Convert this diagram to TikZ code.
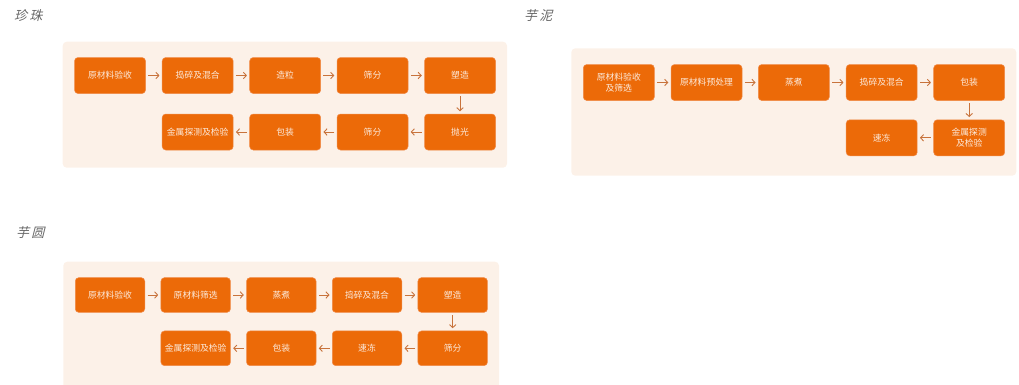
\documentclass[tikz,border=0pt]{standalone}
\usepackage{fontspec}
\newfontfamily\cjk{Noto Sans CJK SC}
\newfontfamily\cjktitle[FakeSlant=0.25]{Noto Sans CJK SC}
\usetikzlibrary{arrows.meta}
\definecolor{panelbg}{HTML}{FCF1E8}
\definecolor{boxfill}{HTML}{EC6A08}
\definecolor{boxline}{HTML}{F08A48}
\definecolor{arrowc}{HTML}{C8733C}
\definecolor{boxtext}{HTML}{FCEBDD}
\definecolor{titlec}{HTML}{666666}
\tikzset{
  panel/.style={fill=panelbg, draw=none, rounded corners=4pt},
  stepbox/.style={fill=boxfill, draw=boxline, line width=0.5pt, rounded corners=3.5pt,
    minimum width=71pt, minimum height=36pt, inner sep=1pt, align=center,
    text=boxtext, font=\cjk\fontsize{8.8}{11}\selectfont},
  smallbox/.style={stepbox, minimum width=69.5pt, minimum height=34.7pt},
  flow/.style={draw=arrowc, line width=0.9pt, -{Straight Barb[length=3pt,width=6.5pt]}, shorten <=2.5pt, shorten >=2.5pt},
  ttl/.style={text=titlec, font=\cjktitle\fontsize{13}{15}\selectfont, anchor=west, inner sep=0pt}
}
\begin{document}
\begin{tikzpicture}[x=1pt,y=-1pt]
\useasboundingbox (0,0) rectangle (1019,384);
% titles
\node[ttl] (t1) at (14,16) {珍\,珠};
\node[ttl] (t2) at (524,16) {芋\,泥};
\node[ttl] (t3) at (16,233) {芋\,圆};
% panels
\fill[panel] (62.7,41.7) rectangle (507,167.7);
\fill[panel] (571.3,48.3) rectangle (1016.3,175.7);
\fill[panel] (63.3,261.7) rectangle (499,390);
% panel 1
\node[stepbox] (a1) at (110,75.5) {原材料验收};
\node[stepbox] (a2) at (197.7,75.5) {捣碎及混合};
\node[stepbox] (a3) at (285.2,75.5) {造粒};
\node[stepbox] (a4) at (372.5,75.5) {筛分};
\node[stepbox] (a5) at (460,75.5) {塑造};
\node[stepbox] (a6) at (460,132) {抛光};
\node[stepbox] (a7) at (372.5,132) {筛分};
\node[stepbox] (a8) at (285.2,132) {包装};
\node[stepbox] (a9) at (197.7,132) {金属探测及检验};
\foreach \u/\v in {a1/a2,a2/a3,a3/a4,a4/a5,a5/a6,a6/a7,a7/a8,a8/a9}
  \draw[flow] (\u) -- (\v);
% panel 2
\node[stepbox] (b1) at (618.8,82.5) {原材料验收\\及筛选};
\node[stepbox] (b2) at (706.5,82.5) {原材料预处理};
\node[stepbox] (b3) at (793.8,82.5) {蒸煮};
\node[stepbox] (b4) at (881.7,82.5) {捣碎及混合};
\node[stepbox] (b5) at (969.2,82.5) {包装};
\node[stepbox] (b6) at (969.2,137.8) {金属探测\\及检验};
\node[stepbox] (b7) at (881.7,137.8) {速冻};
\foreach \u/\v in {b1/b2,b2/b3,b3/b4,b4/b5,b5/b6,b6/b7}
  \draw[flow] (\u) -- (\v);
% panel 3
\node[smallbox] (c1) at (110,295) {原材料验收};
\node[smallbox] (c2) at (195.7,295) {原材料筛选};
\node[smallbox] (c3) at (281.3,295) {蒸煮};
\node[smallbox] (c4) at (367,295) {捣碎及混合};
\node[smallbox] (c5) at (452.7,295) {塑造};
\node[smallbox] (c6) at (452.7,348.3) {筛分};
\node[smallbox] (c7) at (367,348.3) {速冻};
\node[smallbox] (c8) at (281.3,348.3) {包装};
\node[smallbox] (c9) at (195.7,348.3) {金属探测及检验};
\foreach \u/\v in {c1/c2,c2/c3,c3/c4,c4/c5,c5/c6,c6/c7,c7/c8,c8/c9}
  \draw[flow] (\u) -- (\v);
\end{tikzpicture}
\end{document}
